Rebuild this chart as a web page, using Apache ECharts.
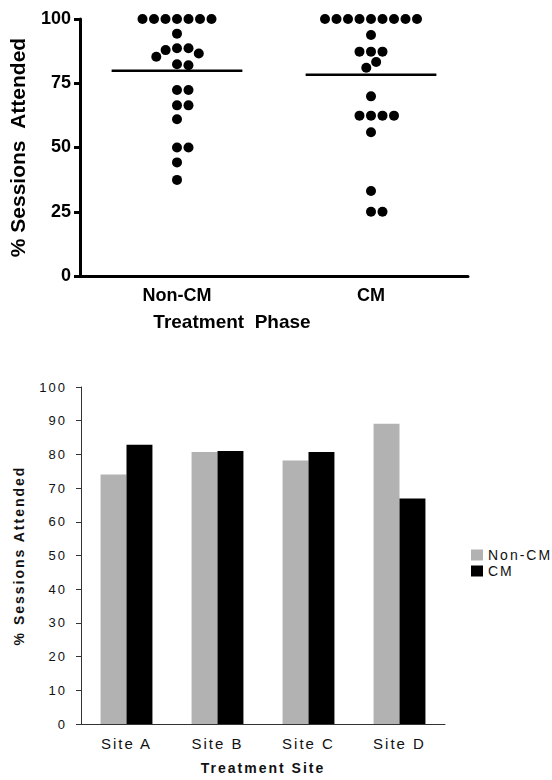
<!DOCTYPE html>
<html>
<head>
<meta charset="utf-8">
<script src="https://cdn.jsdelivr.net/npm/echarts@6/dist/echarts.min.js"></script>
<style>
  html, body { margin: 0; padding: 0; background: #fff; }
  #phase { width: 552px; height: 345px; }
  #site { width: 552px; height: 435px; }
  /* the lower panel has widely spaced lettering */
  #site text { letter-spacing: 2px; }
</style>
</head>
<body>
<div id="phase"></div>
<div id="site"></div>
<script>
// top panel: % sessions attended per participant, by treatment phase
var phases = ['Non-CM', 'CM'];
var nonCmPct = [100, 100, 100, 100, 100, 100, 100, 94.3, 88.6, 88.6, 87.9, 86.6, 85.3,
                82.4, 82, 72.4, 72.4, 66.4, 66.4, 61, 50, 50, 44.2, 37.4];
var cmPct = [100, 100, 100, 100, 100, 100, 100, 100, 100, 93.8, 87.3, 87.3, 87.3,
             83.3, 81, 69.9, 62.4, 62.4, 62.4, 62.4, 55.9, 33.1, 25, 25];
var phaseTicks = [0, 25, 50, 75, 100];

// bottom panel: mean % sessions attended by site
var sites = ['Site A', 'Site B', 'Site C', 'Site D'];
var siteNonCm = [74, 80.7, 78.2, 89.1];
var siteCm = [82.9, 81, 80.7, 66.9];
var siteTicks = [0, 10, 20, 30, 40, 50, 60, 70, 80, 90, 100];

function mean(arr) {
  var s = 0;
  arr.forEach(function (v) { s += v; });
  return s / arr.length;
}

// simple beeswarm: horizontal pixel offset for each dot so that they don't overlap
function swarm(vals, pxPerUnit, d) {
  var placed = [];
  return vals.map(function (v) {
    var y = v * pxPerUnit;
    var cands = [0];
    placed.forEach(function (p) {
      var dy = Math.abs(p.y - y);
      if (dy < d) {
        var dx = Math.sqrt(d * d - dy * dy);
        cands.push(p.x + dx, p.x - dx);
      }
    });
    cands.sort(function (a, b) { return Math.abs(a) - Math.abs(b) || b - a; });
    var x = cands.find(function (c) {
      return placed.every(function (p) {
        var dx = p.x - c, dy = p.y - y;
        return dx * dx + dy * dy >= d * d - 0.01;
      });
    });
    placed.push({ x: x, y: y });
    return x;
  });
}

var plotH = 257;
var dot = 11.5;

function dots(vals, idx) {
  var offs = swarm(vals, plotH / 100, dot);
  return vals.map(function (v, i) {
    return { value: [idx, v], symbolOffset: [offs[i], 0] };
  });
}

var bold = 'bold';
var ff = '"Liberation Sans", Arial, sans-serif';

var phaseChart = echarts.init(document.getElementById('phase'));
phaseChart.setOption({
  animation: false,
  grid: { left: 80, right: 84, top: 19, height: plotH },
  xAxis: {
    type: 'category',
    data: phases,
    boundaryGap: true,
    name: 'Treatment  Phase',
    nameLocation: 'middle',
    nameGap: 37,
    nameTextStyle: { color: '#000', fontFamily: ff, fontWeight: bold, fontSize: 19, padding: [0, 84, 0, 0] },
    axisLine: { lineStyle: { color: '#000', width: 3 } },
    axisTick: { alignWithLabel: true, length: 7, lineStyle: { color: '#000', width: 3 } },
    axisLabel: { color: '#000', fontFamily: ff, fontWeight: bold, fontSize: 18, margin: 11 },
    splitLine: { show: false }
  },
  yAxis: {
    type: 'value',
    min: 0,
    max: 100,
    interval: 25,
    name: '% Sessions  Attended',
    nameLocation: 'middle',
    nameRotate: 90,
    nameGap: 45,
    nameTextStyle: { color: '#000', fontFamily: ff, fontWeight: bold, fontSize: 21 },
    axisLine: { show: true, lineStyle: { color: '#000', width: 3 } },
    axisTick: { show: true, length: 6, lineStyle: { color: '#000', width: 3 } },
    axisLabel: {
      color: '#000', fontFamily: ff, fontWeight: bold, fontSize: 18, margin: 9,
      formatter: function (v) { return phaseTicks.indexOf(v) >= 0 ? String(v) : ''; }
    },
    splitLine: { show: false }
  },
  series: [
    {
      type: 'custom',
      data: [[0, mean(nonCmPct)], [1, mean(cmPct)]],
      encode: { x: 0, y: 1 },
      renderItem: function (params, api) {
        var c = api.coord([api.value(0), api.value(1)]);
        var w = api.size([1, 0])[0] * 0.337;
        return {
          type: 'line',
          shape: { x1: c[0] - w, y1: c[1], x2: c[0] + w, y2: c[1] },
          style: { stroke: '#000', lineWidth: 2.5 }
        };
      },
      z: 1
    },
    {
      type: 'scatter',
      symbol: 'circle',
      symbolSize: 10,
      itemStyle: { color: '#000', opacity: 1 },
      data: dots(nonCmPct, 0),
      z: 2
    },
    {
      type: 'scatter',
      symbol: 'circle',
      symbolSize: 10,
      itemStyle: { color: '#000', opacity: 1 },
      data: dots(cmPct, 1),
      z: 2
    }
  ]
});

var siteChart = echarts.init(document.getElementById('site'), null, { renderer: 'svg' });
siteChart.setOption({
  animation: false,
  textStyle: { fontFamily: ff },
  legend: {
    orient: 'vertical',
    left: 466,
    top: 198,
    itemWidth: 12,
    itemHeight: 11,
    itemGap: 2,
    icon: 'rect',
    textStyle: { color: '#111', fontSize: 14 },
    data: ['Non-CM', 'CM']
  },
  grid: { left: 81, right: 107, top: 42, bottom: 50 },
  xAxis: {
    type: 'category',
    data: sites,
    name: 'Treatment Site',
    nameLocation: 'middle',
    nameGap: 37,
    nameTextStyle: { color: '#111', fontWeight: bold, fontSize: 14 },
    axisLine: { lineStyle: { color: '#333', width: 1 } },
    axisTick: { length: 5, lineStyle: { color: '#333' } },
    axisLabel: { color: '#111', fontSize: 15, margin: 12 }
  },
  yAxis: {
    type: 'value',
    min: 0,
    max: 100,
    interval: 10,
    name: '% Sessions Attended',
    nameLocation: 'middle',
    nameRotate: 90,
    nameGap: 55,
    nameTextStyle: { color: '#111', fontWeight: bold, fontSize: 14 },
    axisLine: { show: true, lineStyle: { color: '#333', width: 1 } },
    axisTick: { show: true, length: 5, lineStyle: { color: '#333' } },
    axisLabel: {
      color: '#111', fontSize: 13, margin: 14,
      formatter: function (v) { return siteTicks.indexOf(v) >= 0 ? String(v) : ''; }
    },
    splitLine: { show: false }
  },
  series: [
    {
      name: 'Non-CM',
      type: 'bar',
      data: siteNonCm,
      barGap: '0%',
      barCategoryGap: '43%',
      itemStyle: { color: '#b2b2b2' }
    },
    {
      name: 'CM',
      type: 'bar',
      data: siteCm,
      itemStyle: { color: '#000' }
    }
  ]
});
</script>
</body>
</html>
